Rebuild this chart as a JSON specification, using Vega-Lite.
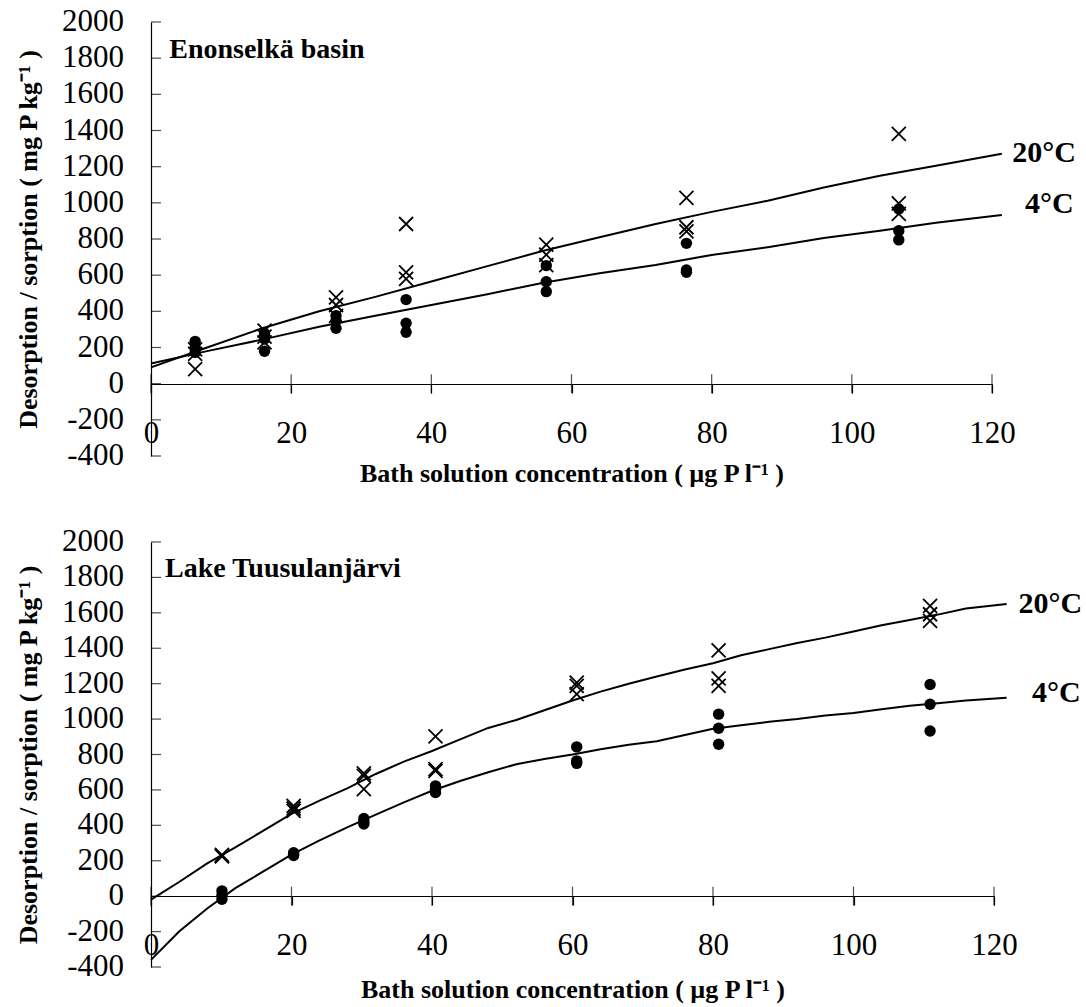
{
  "$schema": "https://vega.github.io/schema/vega-lite/v6.json",
  "background": "white",
  "padding": {"left": 15, "top": 6, "right": 5, "bottom": 2},
  "datasets": {
    "top_points": [
      {"x": 6.3, "y": 80, "temp": "20°C"}, {"x": 6.3, "y": 165, "temp": "20°C"}, {"x": 6.3, "y": 190, "temp": "20°C"},
      {"x": 16.2, "y": 293, "temp": "20°C"}, {"x": 16.2, "y": 228, "temp": "20°C"}, {"x": 16.2, "y": 260, "temp": "20°C"},
      {"x": 26.4, "y": 477, "temp": "20°C"}, {"x": 26.4, "y": 435, "temp": "20°C"}, {"x": 26.4, "y": 375, "temp": "20°C"},
      {"x": 36.4, "y": 883, "temp": "20°C"}, {"x": 36.4, "y": 616, "temp": "20°C"}, {"x": 36.4, "y": 579, "temp": "20°C"},
      {"x": 56.4, "y": 769, "temp": "20°C"}, {"x": 56.4, "y": 713, "temp": "20°C"}, {"x": 56.4, "y": 655, "temp": "20°C"},
      {"x": 76.4, "y": 1027, "temp": "20°C"}, {"x": 76.4, "y": 865, "temp": "20°C"}, {"x": 76.4, "y": 842, "temp": "20°C"},
      {"x": 106.7, "y": 1381, "temp": "20°C"}, {"x": 106.7, "y": 997, "temp": "20°C"}, {"x": 106.7, "y": 939, "temp": "20°C"},
      {"x": 6.3, "y": 234, "temp": "4°C"}, {"x": 6.3, "y": 200, "temp": "4°C"}, {"x": 6.3, "y": 173, "temp": "4°C"},
      {"x": 16.2, "y": 278, "temp": "4°C"}, {"x": 16.2, "y": 247, "temp": "4°C"}, {"x": 16.2, "y": 179, "temp": "4°C"},
      {"x": 26.4, "y": 376, "temp": "4°C"}, {"x": 26.4, "y": 348, "temp": "4°C"}, {"x": 26.4, "y": 306, "temp": "4°C"},
      {"x": 36.4, "y": 465, "temp": "4°C"}, {"x": 36.4, "y": 334, "temp": "4°C"}, {"x": 36.4, "y": 284, "temp": "4°C"},
      {"x": 56.4, "y": 653, "temp": "4°C"}, {"x": 56.4, "y": 564, "temp": "4°C"}, {"x": 56.4, "y": 509, "temp": "4°C"},
      {"x": 76.4, "y": 776, "temp": "4°C"}, {"x": 76.4, "y": 629, "temp": "4°C"}, {"x": 76.4, "y": 616, "temp": "4°C"},
      {"x": 106.7, "y": 966, "temp": "4°C"}, {"x": 106.7, "y": 846, "temp": "4°C"}, {"x": 106.7, "y": 795, "temp": "4°C"}
    ],
    "top_curve": [
      {"x": 0, "y": 90, "temp": "20°C"}, {"x": 8, "y": 200, "temp": "20°C"}, {"x": 16, "y": 308, "temp": "20°C"}, {"x": 24, "y": 400, "temp": "20°C"},
      {"x": 32, "y": 480, "temp": "20°C"}, {"x": 40, "y": 565, "temp": "20°C"}, {"x": 48, "y": 650, "temp": "20°C"}, {"x": 56, "y": 735, "temp": "20°C"},
      {"x": 64, "y": 810, "temp": "20°C"}, {"x": 72, "y": 883, "temp": "20°C"}, {"x": 80, "y": 950, "temp": "20°C"}, {"x": 88, "y": 1012, "temp": "20°C"},
      {"x": 96, "y": 1085, "temp": "20°C"}, {"x": 104, "y": 1150, "temp": "20°C"}, {"x": 112, "y": 1205, "temp": "20°C"}, {"x": 121.4, "y": 1272, "temp": "20°C"},
      {"x": 0, "y": 112, "temp": "4°C"}, {"x": 8, "y": 180, "temp": "4°C"}, {"x": 16, "y": 245, "temp": "4°C"}, {"x": 24, "y": 315, "temp": "4°C"},
      {"x": 32, "y": 375, "temp": "4°C"}, {"x": 40, "y": 435, "temp": "4°C"}, {"x": 48, "y": 495, "temp": "4°C"}, {"x": 56, "y": 558, "temp": "4°C"},
      {"x": 64, "y": 610, "temp": "4°C"}, {"x": 72, "y": 656, "temp": "4°C"}, {"x": 80, "y": 712, "temp": "4°C"}, {"x": 88, "y": 755, "temp": "4°C"},
      {"x": 96, "y": 805, "temp": "4°C"}, {"x": 104, "y": 845, "temp": "4°C"}, {"x": 112, "y": 890, "temp": "4°C"}, {"x": 121.4, "y": 933, "temp": "4°C"}
    ],
    "top_labels": [
      {"label": "20°C", "x": 122.9, "y": 1275},
      {"label": "4°C", "x": 124.7, "y": 994}
    ],
    "bottom_points": [
      {"x": 10.1, "y": 233, "temp": "20°C"}, {"x": 10.1, "y": 225, "temp": "20°C"}, {"x": 10.1, "y": 228, "temp": "20°C"},
      {"x": 20.3, "y": 510, "temp": "20°C"}, {"x": 20.3, "y": 482, "temp": "20°C"}, {"x": 20.3, "y": 495, "temp": "20°C"},
      {"x": 30.3, "y": 694, "temp": "20°C"}, {"x": 30.3, "y": 679, "temp": "20°C"}, {"x": 30.3, "y": 604, "temp": "20°C"},
      {"x": 40.5, "y": 902, "temp": "20°C"}, {"x": 40.5, "y": 717, "temp": "20°C"}, {"x": 40.5, "y": 708, "temp": "20°C"},
      {"x": 60.6, "y": 1206, "temp": "20°C"}, {"x": 60.6, "y": 1188, "temp": "20°C"}, {"x": 60.6, "y": 1141, "temp": "20°C"},
      {"x": 80.8, "y": 1388, "temp": "20°C"}, {"x": 80.8, "y": 1230, "temp": "20°C"}, {"x": 80.8, "y": 1188, "temp": "20°C"},
      {"x": 110.9, "y": 1639, "temp": "20°C"}, {"x": 110.9, "y": 1592, "temp": "20°C"}, {"x": 110.9, "y": 1555, "temp": "20°C"},
      {"x": 10.1, "y": 30, "temp": "4°C"}, {"x": 10.1, "y": 5, "temp": "4°C"}, {"x": 10.1, "y": -17, "temp": "4°C"},
      {"x": 20.3, "y": 245, "temp": "4°C"}, {"x": 20.3, "y": 237, "temp": "4°C"}, {"x": 20.3, "y": 230, "temp": "4°C"},
      {"x": 30.3, "y": 439, "temp": "4°C"}, {"x": 30.3, "y": 422, "temp": "4°C"}, {"x": 30.3, "y": 407, "temp": "4°C"},
      {"x": 40.5, "y": 623, "temp": "4°C"}, {"x": 40.5, "y": 604, "temp": "4°C"}, {"x": 40.5, "y": 585, "temp": "4°C"},
      {"x": 60.6, "y": 843, "temp": "4°C"}, {"x": 60.6, "y": 764, "temp": "4°C"}, {"x": 60.6, "y": 750, "temp": "4°C"},
      {"x": 80.8, "y": 1028, "temp": "4°C"}, {"x": 80.8, "y": 948, "temp": "4°C"}, {"x": 80.8, "y": 858, "temp": "4°C"},
      {"x": 110.9, "y": 1195, "temp": "4°C"}, {"x": 110.9, "y": 1084, "temp": "4°C"}, {"x": 110.9, "y": 933, "temp": "4°C"}
    ],
    "bottom_curve": [
      {"x": 0, "y": -20, "temp": "20°C"}, {"x": 4, "y": 80, "temp": "20°C"}, {"x": 8, "y": 185, "temp": "20°C"}, {"x": 12, "y": 275, "temp": "20°C"},
      {"x": 16, "y": 370, "temp": "20°C"}, {"x": 20, "y": 465, "temp": "20°C"}, {"x": 24, "y": 540, "temp": "20°C"}, {"x": 28, "y": 610, "temp": "20°C"},
      {"x": 32, "y": 690, "temp": "20°C"}, {"x": 36, "y": 760, "temp": "20°C"}, {"x": 40, "y": 820, "temp": "20°C"}, {"x": 44, "y": 885, "temp": "20°C"},
      {"x": 48, "y": 950, "temp": "20°C"}, {"x": 52, "y": 995, "temp": "20°C"}, {"x": 56, "y": 1050, "temp": "20°C"}, {"x": 60, "y": 1105, "temp": "20°C"},
      {"x": 64, "y": 1155, "temp": "20°C"}, {"x": 68, "y": 1200, "temp": "20°C"}, {"x": 72, "y": 1240, "temp": "20°C"}, {"x": 76, "y": 1280, "temp": "20°C"},
      {"x": 80, "y": 1315, "temp": "20°C"}, {"x": 84, "y": 1360, "temp": "20°C"}, {"x": 88, "y": 1395, "temp": "20°C"}, {"x": 92, "y": 1430, "temp": "20°C"},
      {"x": 96, "y": 1460, "temp": "20°C"}, {"x": 100, "y": 1495, "temp": "20°C"}, {"x": 104, "y": 1530, "temp": "20°C"}, {"x": 108, "y": 1560, "temp": "20°C"},
      {"x": 112, "y": 1590, "temp": "20°C"}, {"x": 116, "y": 1625, "temp": "20°C"}, {"x": 121.8, "y": 1650, "temp": "20°C"},
      {"x": 0, "y": -360, "temp": "4°C"}, {"x": 4, "y": -200, "temp": "4°C"}, {"x": 8, "y": -70, "temp": "4°C"}, {"x": 12, "y": 45, "temp": "4°C"},
      {"x": 16, "y": 140, "temp": "4°C"}, {"x": 20, "y": 235, "temp": "4°C"}, {"x": 24, "y": 315, "temp": "4°C"}, {"x": 28, "y": 390, "temp": "4°C"},
      {"x": 32, "y": 460, "temp": "4°C"}, {"x": 36, "y": 530, "temp": "4°C"}, {"x": 40, "y": 595, "temp": "4°C"}, {"x": 44, "y": 650, "temp": "4°C"},
      {"x": 48, "y": 700, "temp": "4°C"}, {"x": 52, "y": 745, "temp": "4°C"}, {"x": 56, "y": 775, "temp": "4°C"}, {"x": 60, "y": 800, "temp": "4°C"},
      {"x": 64, "y": 830, "temp": "4°C"}, {"x": 68, "y": 855, "temp": "4°C"}, {"x": 72, "y": 875, "temp": "4°C"}, {"x": 76, "y": 910, "temp": "4°C"},
      {"x": 80, "y": 945, "temp": "4°C"}, {"x": 84, "y": 965, "temp": "4°C"}, {"x": 88, "y": 985, "temp": "4°C"}, {"x": 92, "y": 1000, "temp": "4°C"},
      {"x": 96, "y": 1020, "temp": "4°C"}, {"x": 100, "y": 1035, "temp": "4°C"}, {"x": 104, "y": 1055, "temp": "4°C"}, {"x": 108, "y": 1075, "temp": "4°C"},
      {"x": 112, "y": 1090, "temp": "4°C"}, {"x": 116, "y": 1105, "temp": "4°C"}, {"x": 121.8, "y": 1120, "temp": "4°C"}
    ],
    "bottom_labels": [
      {"label": "20°C", "x": 123.5, "y": 1649},
      {"label": "4°C", "x": 125.4, "y": 1150}
    ],
    "xticks": [{"t": 0}, {"t": 20}, {"t": 40}, {"t": 60}, {"t": 80}, {"t": 100}, {"t": 120}],
    "yticks": [{"t": -400}, {"t": -200}, {"t": 0}, {"t": 200}, {"t": 400}, {"t": 600}, {"t": 800}, {"t": 1000}, {"t": 1200}, {"t": 1400}, {"t": 1600}, {"t": 1800}, {"t": 2000}]
  },
  "spacing": 40,
  "vconcat": [
    {
      "width": 841,
      "height": 434,
      "layer": [
        {
          "data": {"name": "top_curve"},
          "mark": {"type": "line", "color": "black", "strokeWidth": 2},
          "encoding": {
            "x": {"field": "x", "type": "quantitative", "scale": {"domain": [0, 120], "nice": false, "zero": false},
                  "axis": {"title": "Bath solution concentration  ( µg P l⁻¹ )", "values": [0, 20, 40, 60, 80, 100, 120], "offset": -72, "tickSize": 9, "labelPadding": 25, "titlePadding": 12, "labelOverlap": false, "labelExpr": "''+datum.value"}},
            "y": {"field": "y", "type": "quantitative", "scale": {"domain": [-400, 2000], "nice": false, "zero": false},
                  "axis": {"title": "Desorption / sorption  ( mg P kg⁻¹ )", "values": [-400, 2000], "ticks": false, "labels": false, "titlePadding": 110}},
            "detail": {"field": "temp", "type": "nominal"}
          }
        },
        {
          "data": {"name": "xticks"},
          "mark": {"type": "tick", "orient": "vertical", "thickness": 1.2, "color": "black"},
          "encoding": {"x": {"field": "t", "type": "quantitative"}, "y": {"datum": 0}, "size": {"value": 19}}
        },
        {
          "data": {"name": "yticks"},
          "mark": {"type": "tick", "orient": "horizontal", "thickness": 1.2, "color": "black", "xOffset": 5},
          "encoding": {"y": {"field": "t", "type": "quantitative"}, "x": {"datum": 0}, "size": {"value": 10}}
        },
        {
          "data": {"name": "yticks"},
          "mark": {"type": "text", "align": "right", "baseline": "middle", "dx": -27, "font": "Liberation Serif", "fontSize": 31, "color": "black"},
          "encoding": {"y": {"field": "t", "type": "quantitative"}, "x": {"datum": 0}, "text": {"field": "t", "type": "nominal"}}
        },
        {
          "data": {"name": "top_points"},
          "transform": [{"filter": "datum.temp === '4°C'"}],
          "mark": {"type": "point", "shape": "circle", "filled": true, "color": "black", "size": 130, "opacity": 1},
          "encoding": {"x": {"field": "x", "type": "quantitative"}, "y": {"field": "y", "type": "quantitative"}}
        },
        {
          "data": {"name": "top_points"},
          "transform": [{"filter": "datum.temp === '20°C'"}],
          "mark": {"type": "point", "shape": "M-1,-1L1,1M-1,1L1,-1", "filled": false, "color": "black", "strokeWidth": 1.8, "size": 196, "opacity": 1},
          "encoding": {"x": {"field": "x", "type": "quantitative"}, "y": {"field": "y", "type": "quantitative"}}
        },
        {
          "data": {"name": "top_labels"},
          "mark": {"type": "text", "align": "left", "baseline": "middle", "font": "Liberation Serif", "fontWeight": "bold", "fontSize": 30, "color": "black"},
          "encoding": {"x": {"field": "x", "type": "quantitative"}, "y": {"field": "y", "type": "quantitative"}, "text": {"field": "label"}}
        },
        {
          "data": {"values": [{"panel": "Enonselkä basin"}]},
          "mark": {"type": "text", "align": "left", "baseline": "alphabetic", "font": "Liberation Serif", "fontWeight": "bold", "fontSize": 28, "color": "black"},
          "encoding": {"x": {"datum": 2.6}, "y": {"datum": 1800}, "text": {"field": "panel"}}
        }
      ]
    },
    {
      "width": 843,
      "height": 425,
      "layer": [
        {
          "data": {"name": "bottom_curve"},
          "mark": {"type": "line", "color": "black", "strokeWidth": 2},
          "encoding": {
            "x": {"field": "x", "type": "quantitative", "scale": {"domain": [0, 120], "nice": false, "zero": false},
                  "axis": {"title": "Bath solution concentration  ( µg P l⁻¹ )", "values": [0, 20, 40, 60, 80, 100, 120], "offset": -71, "tickSize": 9, "labelPadding": 25, "titlePadding": 16, "labelOverlap": false, "labelExpr": "''+datum.value"}},
            "y": {"field": "y", "type": "quantitative", "scale": {"domain": [-400, 2000], "nice": false, "zero": false},
                  "axis": {"title": "Desorption / sorption  ( mg P kg⁻¹ )", "values": [-400, 2000], "ticks": false, "labels": false, "titlePadding": 110}},
            "detail": {"field": "temp", "type": "nominal"}
          }
        },
        {
          "data": {"name": "xticks"},
          "mark": {"type": "tick", "orient": "vertical", "thickness": 1.2, "color": "black"},
          "encoding": {"x": {"field": "t", "type": "quantitative"}, "y": {"datum": 0}, "size": {"value": 19}}
        },
        {
          "data": {"name": "yticks"},
          "mark": {"type": "tick", "orient": "horizontal", "thickness": 1.2, "color": "black", "xOffset": 5},
          "encoding": {"y": {"field": "t", "type": "quantitative"}, "x": {"datum": 0}, "size": {"value": 10}}
        },
        {
          "data": {"name": "yticks"},
          "mark": {"type": "text", "align": "right", "baseline": "middle", "dx": -27, "font": "Liberation Serif", "fontSize": 31, "color": "black"},
          "encoding": {"y": {"field": "t", "type": "quantitative"}, "x": {"datum": 0}, "text": {"field": "t", "type": "nominal"}}
        },
        {
          "data": {"name": "bottom_points"},
          "transform": [{"filter": "datum.temp === '4°C'"}],
          "mark": {"type": "point", "shape": "circle", "filled": true, "color": "black", "size": 130, "opacity": 1},
          "encoding": {"x": {"field": "x", "type": "quantitative"}, "y": {"field": "y", "type": "quantitative"}}
        },
        {
          "data": {"name": "bottom_points"},
          "transform": [{"filter": "datum.temp === '20°C'"}],
          "mark": {"type": "point", "shape": "M-1,-1L1,1M-1,1L1,-1", "filled": false, "color": "black", "strokeWidth": 1.8, "size": 196, "opacity": 1},
          "encoding": {"x": {"field": "x", "type": "quantitative"}, "y": {"field": "y", "type": "quantitative"}}
        },
        {
          "data": {"name": "bottom_labels"},
          "mark": {"type": "text", "align": "left", "baseline": "middle", "font": "Liberation Serif", "fontWeight": "bold", "fontSize": 30, "color": "black"},
          "encoding": {"x": {"field": "x", "type": "quantitative"}, "y": {"field": "y", "type": "quantitative"}, "text": {"field": "label"}}
        },
        {
          "data": {"values": [{"panel": "Lake Tuusulanjärvi"}]},
          "mark": {"type": "text", "align": "left", "baseline": "alphabetic", "font": "Liberation Serif", "fontWeight": "bold", "fontSize": 28, "color": "black"},
          "encoding": {"x": {"datum": 2.0}, "y": {"datum": 1800}, "text": {"field": "panel"}}
        }
      ]
    }
  ],
  "config": {
    "view": {"stroke": null},
    "font": "Liberation Serif",
    "axis": {
      "grid": false,
      "domainColor": "black",
      "domainWidth": 1.2,
      "tickColor": "black",
      "tickWidth": 1.2,
      "labelColor": "black",
      "titleColor": "black",
      "labelFont": "Liberation Serif",
      "labelFontSize": 31,
      "titleFont": "Liberation Serif",
      "titleFontWeight": "bold",
      "titleFontSize": 26,
      "labelFlush": false,
      "labelOverlap": false
    }
  }
}
